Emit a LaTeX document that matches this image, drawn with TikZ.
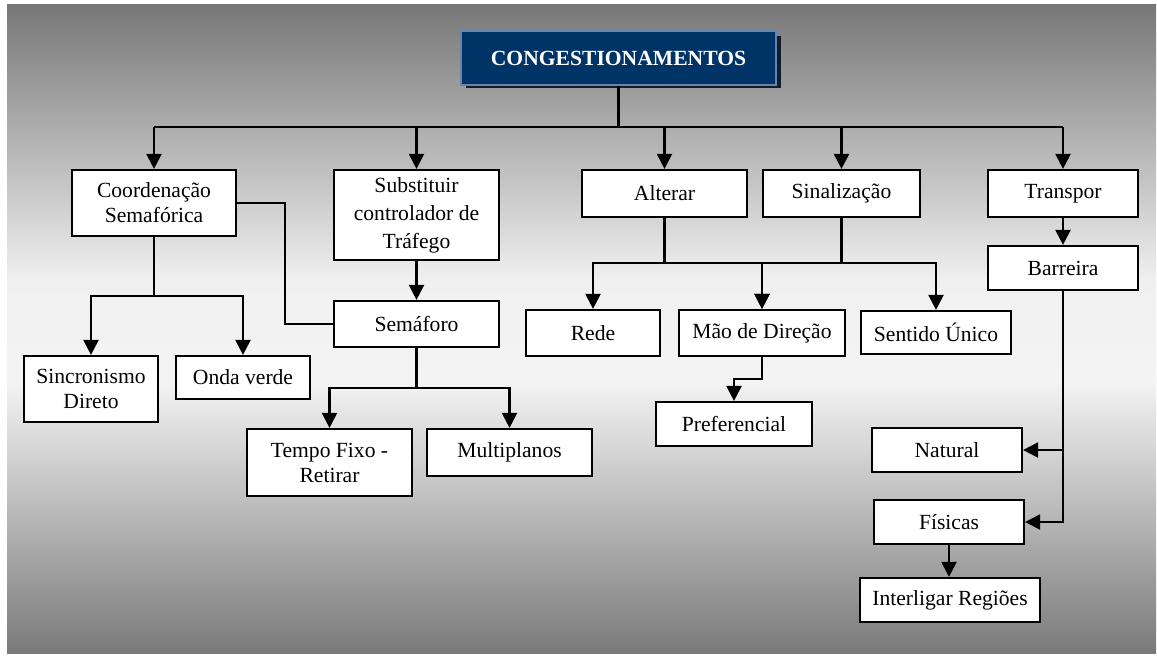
\documentclass[tikz,border=0pt]{standalone}
\usepackage{fontspec}
\setmainfont{Liberation Serif}
\usetikzlibrary{arrows.meta}
\definecolor{navy}{RGB}{0,51,102}
\definecolor{navyedge}{RGB}{102,133,170}
\definecolor{navyshadow}{RGB}{20,28,42}
\definecolor{gA}{RGB}{119,119,119}
\definecolor{gB}{RGB}{240,240,240}
\definecolor{gC}{RGB}{244,244,244}
\definecolor{gD}{RGB}{122,122,122}
\begin{document}
\begin{tikzpicture}[x=1pt,y=-1pt,
  box/.style={draw=black,fill=white,line width=2.2pt,align=center,inner sep=0pt,font=\fontsize{21.6}{25}\selectfont},
  conn/.style={line width=2.2pt},
  arr/.style={line width=2.2pt,-{Triangle[length=15pt,width=15pt]}},
]
\fill[white] (0,0) rectangle (1157,657);
\useasboundingbox (0,0) rectangle (1157,657);
% background gradient
\shade[top color=gA,bottom color=gB] (7,4) rectangle (1156,281);
\shade[top color=gB,bottom color=gC] (7,280) rectangle (1156,381);
\shade[top color=gC,bottom color=gD] (7,380) rectangle (1156,653);

% root
\fill[navyshadow] (466,36) rectangle (781,88);
\node[fill=navy,draw=navyedge,line width=2.5pt,minimum width=315pt,minimum height=54pt,inner sep=0pt,text=white,font=\bfseries\fontsize{21.6}{25}\selectfont] (root) at (618.5,58) {CONGESTIONAMENTOS};

% level 1
\node[box,minimum width=164pt,minimum height=66pt] (coord) at (154,203) {Coordenação\\Semafórica};
\node[box,minimum width=165pt,minimum height=90pt,font=\fontsize{21.6}{28}\selectfont] (subst) at (416.5,215) {Substituir\\controlador de\\Tráfego};
\node[box,minimum width=165pt,minimum height=47pt] (alterar) at (664.5,193.5) {Alterar};
\node[box,minimum width=157pt,minimum height=47pt] (sinal) at (841.5,193.5) {Sinalização};
\node[box,minimum width=150pt,minimum height=47pt] (transpor) at (1063,193.5) {Transpor};

% lower levels
\node[box,minimum width=134pt,minimum height=66pt] (sinc) at (91,389) {Sincronismo\\Direto};
\node[box,minimum width=134pt,minimum height=43pt] (onda) at (243,377.5) {Onda verde};
\node[box,minimum width=165pt,minimum height=46pt] (semaforo) at (416.5,324) {Semáforo};
\node[box,minimum width=165pt,minimum height=67pt] (tempo) at (329.5,462.5) {Tempo Fixo -\\Retirar};
\node[box,minimum width=165pt,minimum height=47pt] (multi) at (509.5,452.5) {Multiplanos};
\node[box,minimum width=134pt,minimum height=46pt] (rede) at (593,333) {Rede};
\node[box,minimum width=166pt,minimum height=46pt] (mao) at (762,333) {Mão de Direção};
\node[box,minimum width=150pt,minimum height=43pt] (sentido) at (936,332.5) {Sentido Único};
\node[box,minimum width=156pt,minimum height=44pt] (pref) at (734,424) {Preferencial};
\node[box,minimum width=150pt,minimum height=44pt] (barreira) at (1063,268) {Barreira};
\node[box,minimum width=150pt,minimum height=44pt] (natural) at (947,450) {Natural};
\node[box,minimum width=150pt,minimum height=44pt] (fisicas) at (949,522) {Físicas};
\node[box,minimum width=180pt,minimum height=44pt] (inter) at (950,600) {Interligar Regiões};

% connectors from root
\coordinate (b) at (618.5,127);
\draw[conn] (root.south) -- (b);
\draw[conn] (coord.north |- b) -- (transpor.north |- b);
\foreach \n in {coord,subst,alterar,sinal,transpor}
  \draw[arr] (\n.north |- b) -- (\n.north);

% Coordenação
\draw[conn] (coord.east) -- ++(48,0) |- (semaforo.west);
\coordinate (cs) at (154,296);
\draw[conn] (coord.south) -- (cs);
\draw[arr] (cs) -| (sinc.north);
\draw[arr] (cs) -| (onda.north);

% Substituir / Semáforo
\draw[arr] (subst.south) -- (semaforo.north);
\coordinate (ss) at (416.5,388);
\draw[conn] (semaforo.south) -- (ss);
\draw[arr] (ss) -| (tempo.north);
\draw[arr] (ss) -| (multi.north);

% Alterar / Sinalização
\coordinate (as) at (664.5,263);
\draw[conn] (alterar.south) -- (as);
\draw[arr] (as) -| (rede.north);
\draw[arr] (as) -| (mao.north);
\coordinate (sg) at (841.5,263);
\draw[conn] (sinal.south) -- (sg);
\draw[arr] (sg) -| (mao.north);
\draw[arr] (sg) -| (sentido.north);
\draw[arr] (mao.south) -- ++(0,22) -| (pref.north);

% Transpor / Barreira
\draw[arr] (transpor.south) -- (barreira.north);
\draw[arr] (barreira.south) |- (fisicas.east);
\draw[arr] (barreira.south |- natural.east) -- (natural.east);
\draw[arr] (fisicas.south) -- (fisicas.south |- inter.north);
\end{tikzpicture}
\end{document}
